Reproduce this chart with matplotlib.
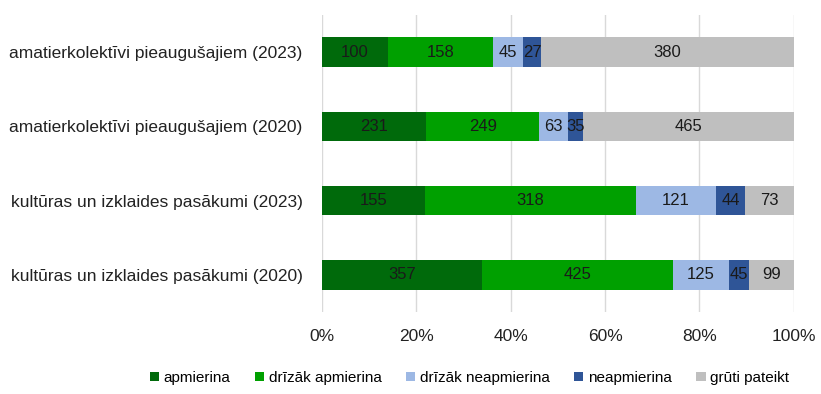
import matplotlib
matplotlib.use("Agg")
import matplotlib.pyplot as plt
import numpy as np

plt.rcParams["font.family"] = ["Liberation Sans Narrow", "Liberation Sans", "DejaVu Sans"]

categories = [
    "amatierkolektīvi pieaugušajiem (2023)",
    "amatierkolektīvi pieaugušajiem (2020)",
    "kultūras un izklaides pasākumi (2023)",
    "kultūras un izklaides pasākumi (2020)",
]
series_names = ["apmierina", "drīzāk apmierina", "drīzāk neapmierina", "neapmierina", "grūti pateikt"]
apmierina = [100, 231, 155, 357]
drizak_apmierina = [158, 249, 318, 425]
drizak_neapmierina = [45, 63, 121, 125]
neapmierina = [27, 35, 44, 45]
gruti_pateikt = [380, 465, 73, 99]
colors = ["#006a0b", "#00a000", "#9db8e4", "#2f5597", "#bfbfbf"]

data = np.array([apmierina, drizak_apmierina, drizak_neapmierina, neapmierina, gruti_pateikt], dtype=float)
totals = data.sum(axis=0)
shares = data / totals

fig = plt.figure(figsize=(8.21, 3.94), dpi=100)
ax = fig.add_axes([0.392, 0.208, 0.575, 0.754])
y = np.arange(len(categories))
left = np.zeros(len(categories))
for i, name in enumerate(series_names):
    ax.barh(y, shares[i], left=left, height=0.4, color=colors[i], label=name, zorder=3)
    for j in range(len(categories)):
        ax.text(left[j] + shares[i][j] / 2, y[j], str(int(data[i][j])), ha="center", va="center",
                fontsize=12, color="#1a1a1a", zorder=4)
    left += shares[i]

ax.set_xlim(0, 1)
ax.set_ylim(3.5, -0.5)
ax.set_yticks(y)
ax.set_yticklabels(categories, fontsize=12.5, color="#222222")
ax.set_xticks(np.linspace(0, 1, 6))
ax.set_xticklabels([f"{int(v)}%" for v in np.linspace(0, 100, 6)], fontsize=12.5, color="#222222")
ax.tick_params(length=0, pad=14)
ax.tick_params(axis="x", pad=12)
ax.grid(axis="x", color="#d9d9d9", linewidth=1, zorder=0)
for s in ax.spines.values():
    s.set_visible(False)

fig.legend(loc="lower center", bbox_to_anchor=(0.572, -0.012), ncol=5, frameon=False, fontsize=11,
           handlelength=0.6, handleheight=0.6, handletextpad=0.3, columnspacing=1.6)
fig.savefig("out.png", dpi=100)
